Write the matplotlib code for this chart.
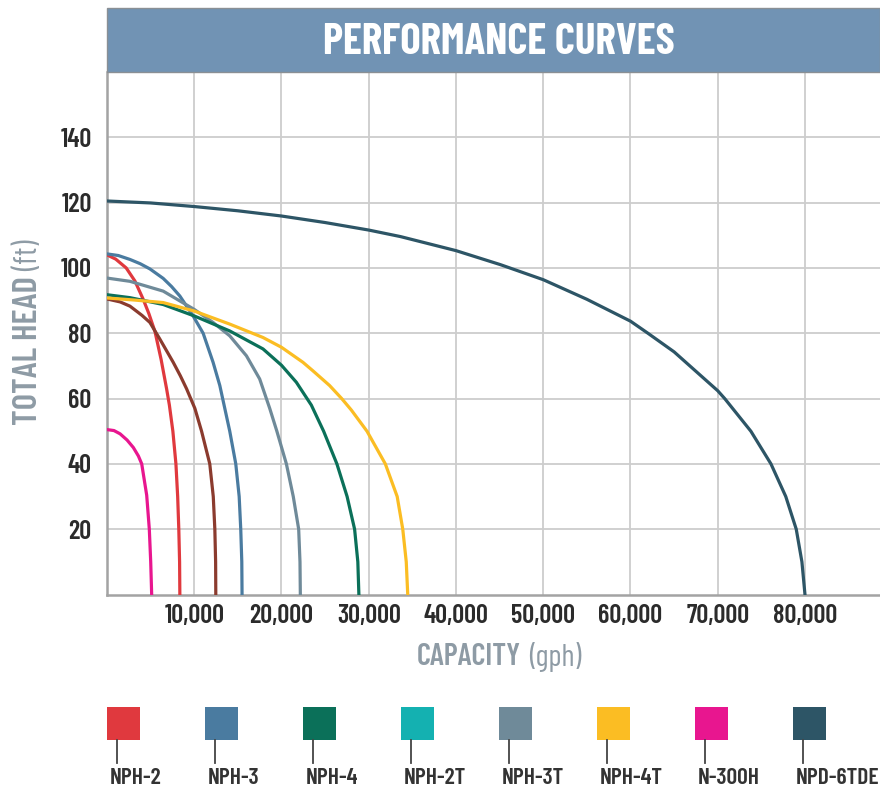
"""Pump performance curves: total head vs capacity."""

import matplotlib
matplotlib.use('Agg')
import matplotlib.pyplot as plt
from matplotlib.patches import Rectangle
from matplotlib.ticker import FuncFormatter

NARROW = ['Barlow Condensed', 'DejaVu Sans']

# capacity (gph) and total head (ft)
nph2_q = [0, 1000, 2200, 3200, 4150, 4800, 5500, 6200, 6830, 7150, 7550, 7900, 8100, 8230, 8320, 8350]
nph2_h = [104, 102.7, 100, 96, 90.4, 86, 80.5, 72, 63, 58, 50, 40, 30, 20, 10, 0]

nph2t_q = [0, 1500, 2630, 4000, 4920, 6060, 7590, 8400, 9120, 10070, 10840, 11780, 12180, 12360, 12450, 12470]
nph2t_h = [90.5, 89.6, 88.3, 85.5, 83.3, 78.2, 71.1, 67, 63, 57, 50, 40, 30, 20, 10, 0]

nph3_q = [0, 1300, 2630, 3800, 4920, 6440, 7400, 8350, 9870, 11020, 12160, 12930, 13500, 14070, 14760,
          15150, 15330, 15450, 15480]
nph3_h = [104.3, 103.8, 102.6, 101.3, 99.7, 96.8, 94.3, 91.4, 85.3, 80, 71.1, 64, 57, 50, 40,
          30, 20, 10, 0]

nph3t_q = [0, 2630, 6440, 10000, 12160, 14070, 15980, 17500, 18650, 19470, 20560, 21350, 21970, 22120, 22160]
nph3t_h = [96.9, 95.9, 92.9, 87.3, 83.3, 79.2, 73.1, 66, 57, 50, 40, 30, 20, 10, 0]

nph4_q = [0, 2630, 6440, 10000, 14070, 17880, 20000, 21700, 23420, 24830, 26350, 27520, 28380, 28750, 28870]
nph4_h = [91.8, 90.9, 88.8, 85.3, 80.7, 75.2, 70.2, 65, 58, 50, 40, 30, 20, 10, 0]

nph4t_q = [0, 3000, 6440, 10000, 14070, 17880, 20000, 22460, 23600, 25510, 26900, 28000, 29800, 31900,
           33260, 33900, 34300, 34470]
nph4t_h = [90.8, 90.2, 89.4, 86.8, 82.8, 78.7, 75.7, 71.1, 68.5, 64, 60, 56.5, 50, 40, 30, 20, 10, 0]

n300h_q = [0, 800, 1500, 2300, 3020, 3600, 3980, 4550, 4850, 5010, 5120]
n300h_h = [50.5, 50.2, 49.2, 47.3, 45, 42.4, 40, 30.4, 20, 10, 0]

npd6_q = [0, 5000, 10000, 15000, 20000, 25000, 30000, 33640, 40000, 45100, 50000, 55000,
          60000, 62000, 65000, 70000, 70800, 73800, 76100, 77800, 79000, 79650, 80000]
npd6_h = [120.5, 119.9, 118.8, 117.5, 115.9, 113.9, 111.6, 109.6, 105.3, 101, 96.4, 90.4,
          83.7, 80, 74.3, 62.4, 60, 50, 40, 30, 20, 10, 0]

legend_names = ['NPH-2', 'NPH-3', 'NPH-4', 'NPH-2T', 'NPH-3T', 'NPH-4T', 'N-300H', 'NPD-6TDE']
legend_colors = ['#e0393e', '#4a7ba0', '#0b7059', '#14b1b1', '#6f8a99', '#fbbd23', '#e8168f', '#2d5566']

x_ticks = [10000, 20000, 30000, 40000, 50000, 60000, 70000, 80000]
y_ticks = [20, 40, 60, 80, 100, 120, 140]

W, H = 880, 793


def fx(px):
    return px / W


def fy(py):
    return 1 - py / H


fig = plt.figure(figsize=(W / 100, H / 100), dpi=100)
ax = fig.add_axes([fx(107), fy(594.5), fx(880) - fx(107), fy(72) - fy(594.5)])

# curves, the brown one is drawn as in the source picture
curves = [
    (n300h_q, n300h_h, '#e8168f'),
    (nph2_q, nph2_h, '#e0393e'),
    (nph2t_q, nph2t_h, '#8b3b2e'),
    (nph3_q, nph3_h, '#4a7ba0'),
    (nph3t_q, nph3t_h, '#6f8a99'),
    (nph4_q, nph4_h, '#0b7059'),
    (nph4t_q, nph4t_h, '#fbbd23'),
    (npd6_q, npd6_h, '#2d5566'),
]
for q, h, c in curves:
    ax.plot(q, h, color=c, linewidth=2.3, solid_joinstyle='round', zorder=3)

ax.set_xlim(0, 88600)
ax.set_ylim(0, 160)
ax.set_xticks(x_ticks)
ax.set_yticks(y_ticks)
ax.xaxis.set_major_formatter(FuncFormatter(lambda v, p: f'{int(v):,}'))
ax.grid(color='#cdcdcd', linewidth=1.3, zorder=0)
ax.tick_params(length=0, labelsize=19, labelcolor='#2b2b2b')
ax.tick_params(axis='x', pad=7)
ax.tick_params(axis='y', pad=11)
for lab in ax.get_xticklabels() + ax.get_yticklabels():
    lab.set_family(NARROW)
    lab.set_fontweight('semibold')
for s in ['top', 'right']:
    ax.spines[s].set_visible(False)
for s in ['left', 'bottom']:
    ax.spines[s].set_color('#a3a3a3')
    ax.spines[s].set_linewidth(1.8)

# title bar
fig.add_artist(Rectangle((fx(107), fy(72)), fx(880) - fx(107), fy(8) - fy(72),
                         transform=fig.transFigure, facecolor='#7193b4',
                         edgecolor='#8a8f94', linewidth=1))
fig.text(fx(499), fy(42), 'PERFORMANCE CURVES', color='white', fontsize=31,
         fontweight='bold', family=NARROW, ha='center', va='center')

# axis titles
label_col = '#8e9ba5'
fig.text(fx(29), fy(351), 'TOTAL HEAD', rotation=90, color=label_col, fontsize=25,
         fontweight='semibold', family=NARROW, ha='center', va='center')
fig.text(fx(29), fy(255), '(ft)', rotation=90, color=label_col, fontsize=23,
         family=NARROW, ha='center', va='center')
fig.text(fx(521), fy(657), 'CAPACITY', color=label_col, fontsize=22,
         fontweight='semibold', family=NARROW, ha='right', va='center')
fig.text(fx(529), fy(657), '(gph)', color=label_col, fontsize=22,
         family=NARROW, ha='left', va='center')

# legend: swatch, stem and name
for i, (name, col) in enumerate(zip(legend_names, legend_colors)):
    left = 107 + i * 98
    fig.add_artist(Rectangle((fx(left), fy(740)), fx(33), 33 / H,
                             transform=fig.transFigure, facecolor=col, edgecolor='none'))
    fig.add_artist(plt.Line2D([fx(left + 10), fx(left + 10)], [fy(740), fy(763)],
                              transform=fig.transFigure, color='#444444', linewidth=1.3))
    fig.text(fx(left + 3), fy(778), name, color='#333333', fontsize=17,
             fontweight='semibold', family=NARROW, ha='left', va='center')

fig.savefig('out.png', dpi=100)
print('Saved: out.png')
